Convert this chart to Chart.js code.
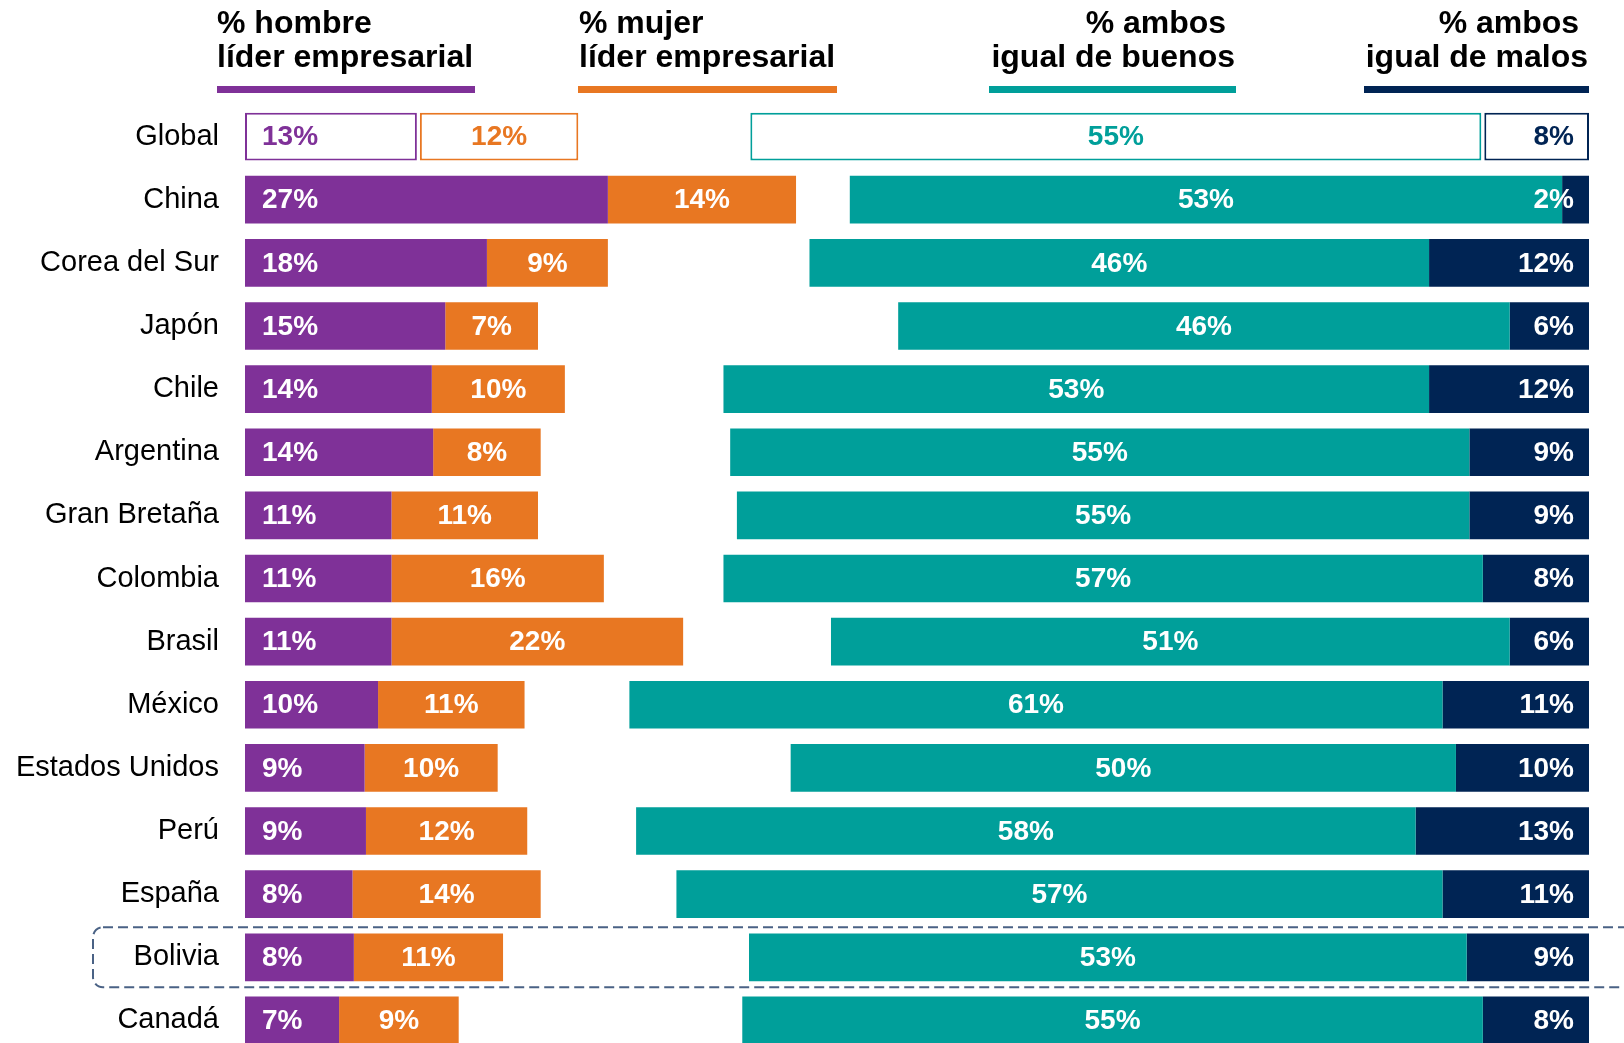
<!DOCTYPE html>
<html lang="es">
<head>
<meta charset="utf-8">
<title>Líder empresarial por país</title>
<script src="https://cdn.jsdelivr.net/npm/chart.js@4.4.1/dist/chart.umd.min.js"></script>
<style>
  html, body { margin: 0; padding: 0; background: #fff; overflow: hidden; }
  #wrap { position: relative; width: 1624px; height: 1043px; overflow: hidden; }
  #chart { position: absolute; left: 0; top: 0; }
  .hdr {
    position: absolute; top: 5px;
    font: bold 32px "Liberation Sans", Arial, sans-serif;
    line-height: 34px; color: #000; white-space: nowrap;
  }
  .hdr.right { text-align: right; }
  .uline { position: absolute; top: 86px; height: 7px; }
</style>
</head>
<body>
<div id="wrap">
  <canvas id="chart" width="1624" height="1052"></canvas>

  <div class="hdr" style="left:217px;">% hombre<br>líder empresarial</div>
  <div class="uline" style="left:217px; width:258px; background:#7f3198;"></div>

  <div class="hdr" style="left:579px;">% mujer<br>líder empresarial</div>
  <div class="uline" style="left:578px; width:259px; background:#e87722;"></div>

  <div class="hdr right" style="right:389px;">% ambos&nbsp;<br>igual de buenos</div>
  <div class="uline" style="left:989px; width:247px; background:#009f9a;"></div>

  <div class="hdr right" style="right:36px;">% ambos&nbsp;<br>igual de malos</div>
  <div class="uline" style="left:1364px; width:225px; background:#002454;"></div>
</div>

<script>
// rows top to bottom, values in %
const categories = [
  "Global", "China", "Corea del Sur", "Japón", "Chile", "Argentina",
  "Gran Bretaña", "Colombia", "Brasil", "México", "Estados Unidos",
  "Perú", "España", "Bolivia", "Canadá"
];
const hombre = [12.9, 27, 18, 14.9, 13.9, 14, 10.9, 10.9, 10.9, 9.9, 8.9, 9, 8, 8.1, 7];
const mujer  = [11.9, 14, 9, 6.9, 9.9, 8, 10.9, 15.8, 21.7, 10.9, 9.9, 12, 14, 11.1, 8.9];
const buenos = [54.5, 53, 46.1, 45.5, 52.5, 55, 54.5, 56.5, 50.5, 60.5, 49.5, 58, 57, 53.4, 55.1];
const malos  = [7.9, 2, 11.9, 5.9, 11.9, 8.9, 8.9, 7.9, 5.9, 10.9, 9.9, 12.9, 10.9, 9.1, 7.9];

const highlightRow = "Bolivia";
const FULL = 100; // right-hand group is aligned to the 100% end

const COLORS = { hombre: "#7f3198", mujer: "#e87722", buenos: "#009f9a", malos: "#002454" };
const FONT = '"Liberation Sans", Arial, Helvetica, sans-serif';

// floating bars: [start, end]
const hombreBars = hombre.map(v => [0, v]);
const mujerBars = mujer.map((v, i) => [hombre[i], hombre[i] + v]);
const buenosBars = buenos.map((v, i) => [FULL - malos[i] - v, FULL - malos[i]]);
const malosBars = malos.map(v => [FULL - v, FULL]);

function makeDataset(label, bars, raw, color, align) {
  return {
    label,
    data: bars,
    raw,
    align,
    color,
    grouped: false,
    barPercentage: 0.755,
    categoryPercentage: 1,
    // first row (Global) is outlined only
    backgroundColor: ctx => ctx.dataIndex === 0 ? "#ffffff" : color,
    borderColor: color,
    borderWidth: ctx => ctx.dataIndex === 0 ? 2 : 0,
    borderSkipped: false,
  };
}

// pull the outlined Global boxes apart a little so they don't touch
const globalGap = {
  id: "globalGap",
  afterDatasetsUpdate(chart) {
    const g = 1.5;
    chart.getDatasetMeta(0).data[0].x -= g;
    chart.getDatasetMeta(1).data[0].base += g;
    chart.getDatasetMeta(2).data[0].x -= g;
    chart.getDatasetMeta(3).data[0].base += g;
  }
};

// value labels drawn inside each segment
const valueLabels = {
  id: "valueLabels",
  afterDatasetsDraw(chart) {
    const ctx = chart.ctx;
    ctx.save();
    ctx.font = "bold 28px " + FONT;
    ctx.textBaseline = "middle";
    chart.data.datasets.forEach((ds, di) => {
      chart.getDatasetMeta(di).data.forEach((bar, i) => {
        const { x, base, y } = bar.getProps(["x", "base", "y"], true);
        const left = Math.min(x, base), right = Math.max(x, base);
        const txt = Math.round(ds.raw[i]) + "%";
        ctx.fillStyle = i === 0 ? ds.color : "#ffffff";
        let tx;
        if (ds.align === "start") { ctx.textAlign = "left"; tx = left + 17; }
        else if (ds.align === "end") { ctx.textAlign = "right"; tx = right - 15; }
        else { ctx.textAlign = "center"; tx = (left + right) / 2; }
        ctx.fillText(txt, tx, y + 1);
      });
    });
    ctx.restore();
  }
};

// dashed rounded box around the highlighted country
const highlightBox = {
  id: "highlightBox",
  beforeDatasetsDraw(chart) {
    const idx = categories.indexOf(highlightRow);
    if (idx < 0) return;
    const y = chart.scales.y.getPixelForValue(idx);
    const ctx = chart.ctx;
    ctx.save();
    ctx.strokeStyle = "#4a6285";
    ctx.lineWidth = 2;
    ctx.setLineDash([10, 5]);
    ctx.beginPath();
    ctx.roundRect(93, y - 30, 1560, 60, 10);
    ctx.stroke();
    ctx.restore();
  }
};

new Chart(document.getElementById("chart"), {
  type: "bar",
  data: {
    labels: categories,
    datasets: [
      makeDataset("% hombre líder empresarial", hombreBars, hombre, COLORS.hombre, "start"),
      makeDataset("% mujer líder empresarial", mujerBars, mujer, COLORS.mujer, "center"),
      makeDataset("% ambos igual de buenos", buenosBars, buenos, COLORS.buenos, "center"),
      makeDataset("% ambos igual de malos", malosBars, malos, COLORS.malos, "end"),
    ]
  },
  options: {
    indexAxis: "y",
    responsive: false,
    animation: false,
    devicePixelRatio: 1,
    layout: { padding: { top: 105, right: 35, bottom: 0, left: 0 } },
    plugins: { legend: { display: false }, tooltip: { enabled: false } },
    scales: {
      x: { type: "linear", min: 0, max: FULL, display: false },
      y: {
        type: "category",
        offset: true,
        grid: { display: false },
        border: { display: false },
        ticks: { color: "#000", padding: 18, font: { family: FONT, size: 29 } },
        afterFit: axis => {
          axis.width = 245;
          axis.paddingTop = 0;
          axis.paddingBottom = 0;
        }
      }
    }
  },
  plugins: [globalGap, highlightBox, valueLabels]
});
</script>
</body>
</html>
